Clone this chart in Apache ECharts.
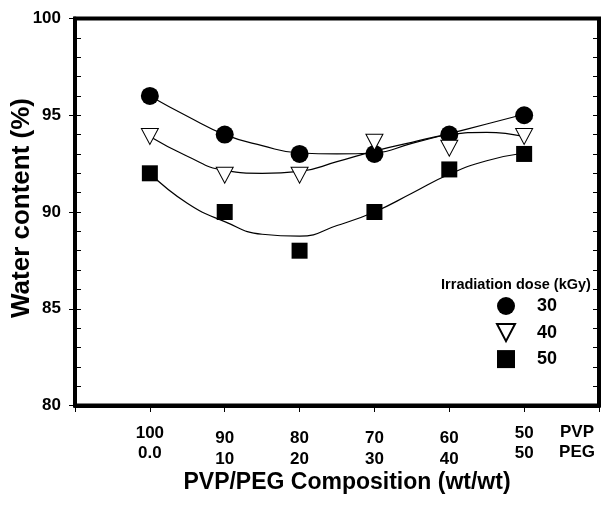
<!DOCTYPE html>
<html>
<head>
<meta charset="utf-8">
<script src="https://cdn.jsdelivr.net/npm/echarts@6/dist/echarts.min.js"></script>
<style>
html,body{margin:0;padding:0;background:#fff;}
#chart{width:602px;height:505px;}
</style>
</head>
<body>
<div id="chart"></div>
<script>
// ---- data ----
const pvpLabels = ['100', '90', '80', '70', '60', '50'];
const pegLabels = ['0.0', '10', '20', '30', '40', '50'];
const doses = ['30', '40', '50'];
const water30 = [96, 94, 93, 93, 94, 95];
const water40 = [93.9, 91.9, 91.9, 93.6, 93.3, 93.9];
const water50 = [92, 90, 88, 90, 92.2, 93];
// fitted curves read at half-category steps (100, 95, 90, ... 50 PVP)
const fit30 = [96.0, 94.95, 94.0, 93.43, 93.05, 93.0, 93.05, 93.55, 94.05, 94.55, 95.05];
const fit40 = [93.9, 92.88, 92.15, 92.0, 92.1, 92.6, 93.15, 93.6, 94.0, 94.12, 93.9];
const fit50 = [92.0, 90.45, 89.5, 88.85, 88.75, 89.3, 90.0, 90.97, 91.95, 92.65, 93.05];
const yTicks = [80, 85, 90, 95, 100];

const FONT = 'Liberation Sans';
const toPts = arr => arr.map((v, i) => [i + 1, v]);
const toFit = arr => arr.map((v, i) => [1 + i * 0.5, v]);

const chart = echarts.init(document.getElementById('chart'), null, {renderer: 'canvas'});

const fitSeries = (name, data) => ({
  name: name, type: 'line', data: toFit(data), smooth: true,
  showSymbol: false, symbol: 'none', silent: true, z: 2,
  lineStyle: {color: '#000', width: 1.2}
});

const option = {
  animation: false,
  backgroundColor: '#fff',
  grid: {left: 75, right: 1.5, top: 18.5, bottom: 99.5, show: true,
         borderColor: '#000', borderWidth: 4, backgroundColor: 'transparent'},
  xAxis: [{
    type: 'value', min: 0, max: 7, interval: 1,
    splitLine: {show: false},
    axisLine: {show: true, lineStyle: {color: '#000', width: 4}},
    axisTick: {show: true, inside: false, length: 6.5, lineStyle: {color: '#000', width: 1}},
    axisLabel: {
      margin: 20, color: '#000', fontFamily: FONT, fontWeight: 'bold', fontSize: 17,
      formatter: function (v) {
        const i = Math.round(v) - 1;
        if (i < 0 || i >= pvpLabels.length) return '';
        const raised = (i === 0 || i === pvpLabels.length - 1);
        return raised ? '{a1|' + pvpLabels[i] + '}\n{a2|' + pegLabels[i] + '}'
                      : '{b1|' + pvpLabels[i] + '}\n{b2|' + pegLabels[i] + '}';
      },
      rich: {
        a1: {fontFamily: FONT, fontWeight: 'bold', fontSize: 17, lineHeight: 16, color: '#000'},
        a2: {fontFamily: FONT, fontWeight: 'bold', fontSize: 17, lineHeight: 24, color: '#000'},
        b1: {fontFamily: FONT, fontWeight: 'bold', fontSize: 17, lineHeight: 25, color: '#000'},
        b2: {fontFamily: FONT, fontWeight: 'bold', fontSize: 17, lineHeight: 18, color: '#000'}
      }
    }
  }],
  yAxis: [{
    type: 'value', min: yTicks[0], max: yTicks[yTicks.length - 1], interval: 5,
    position: 'left',
    splitLine: {show: false},
    axisLine: {show: true, lineStyle: {color: '#000', width: 4}},
    axisTick: {show: true, inside: false, length: 6, lineStyle: {color: '#000', width: 1}},
    axisLabel: {margin: 14, color: '#000', fontFamily: FONT, fontWeight: 'bold', fontSize: 17}
  }, {
    type: 'value', min: 80, max: 100, interval: 1, position: 'left',
    splitLine: {show: false}, axisLine: {show: false},
    axisTick: {show: true, inside: true, length: 6, lineStyle: {color: '#000', width: 1}},
    axisLabel: {show: false}
  }, {
    type: 'value', min: 80, max: 100, interval: 1, position: 'right',
    splitLine: {show: false}, axisLine: {show: false},
    axisTick: {show: true, inside: true, length: 6, lineStyle: {color: '#000', width: 1}},
    axisLabel: {show: false}
  }],
  legend: {
    data: doses, orient: 'vertical', left: 491, top: 292,
    itemWidth: 18, itemHeight: 18, itemGap: 8,
    textStyle: {color: '#000', fontFamily: FONT, fontWeight: 'bold', fontSize: 18, padding: [0, 0, 0, 17]},
    selectedMode: false
  },
  series: [
    fitSeries('fit30', fit30),
    fitSeries('fit40', fit40),
    fitSeries('fit50', fit50),
    {name: doses[0], type: 'scatter', data: toPts(water30), symbol: 'circle', symbolSize: 18, z: 5,
     itemStyle: {color: '#000', borderColor: '#000', borderWidth: 0, opacity: 1}},
    {name: doses[1], type: 'scatter', data: toPts(water40), symbol: 'path://M0,0L20,0L10,19Z',
     symbolSize: [17, 16], z: 5,
     itemStyle: {color: '#fff', borderColor: '#000', borderWidth: 1, opacity: 1}},
    {name: doses[2], type: 'scatter', data: toPts(water50), symbol: 'rect', symbolSize: 16, z: 5,
     itemStyle: {color: '#000', borderColor: '#000', borderWidth: 0, opacity: 1}}
  ],
  graphic: [
    {type: 'text', x: 22, y: 208, rotation: Math.PI / 2,
     style: {text: 'Water content (%)', fill: '#000', font: 'bold 26px "Liberation Sans"',
             align: 'center', verticalAlign: 'middle'}},
    {type: 'text', x: 347, y: 483,
     style: {text: 'PVP/PEG Composition (wt/wt)', fill: '#000', font: 'bold 23px "Liberation Sans"',
             align: 'center', verticalAlign: 'middle'}},
    {type: 'text', x: 577, y: 432,
     style: {text: 'PVP', fill: '#000', font: 'bold 17px "Liberation Sans"', align: 'center', verticalAlign: 'middle'}},
    {type: 'text', x: 577, y: 452,
     style: {text: 'PEG', fill: '#000', font: 'bold 17px "Liberation Sans"', align: 'center', verticalAlign: 'middle'}},
    {type: 'text', x: 516, y: 285,
     style: {text: 'Irradiation dose (kGy)', fill: '#000', font: 'bold 14.5px "Liberation Sans"', align: 'center', verticalAlign: 'middle'}}
  ]
};
chart.setOption(option);
</script>
</body>
</html>
